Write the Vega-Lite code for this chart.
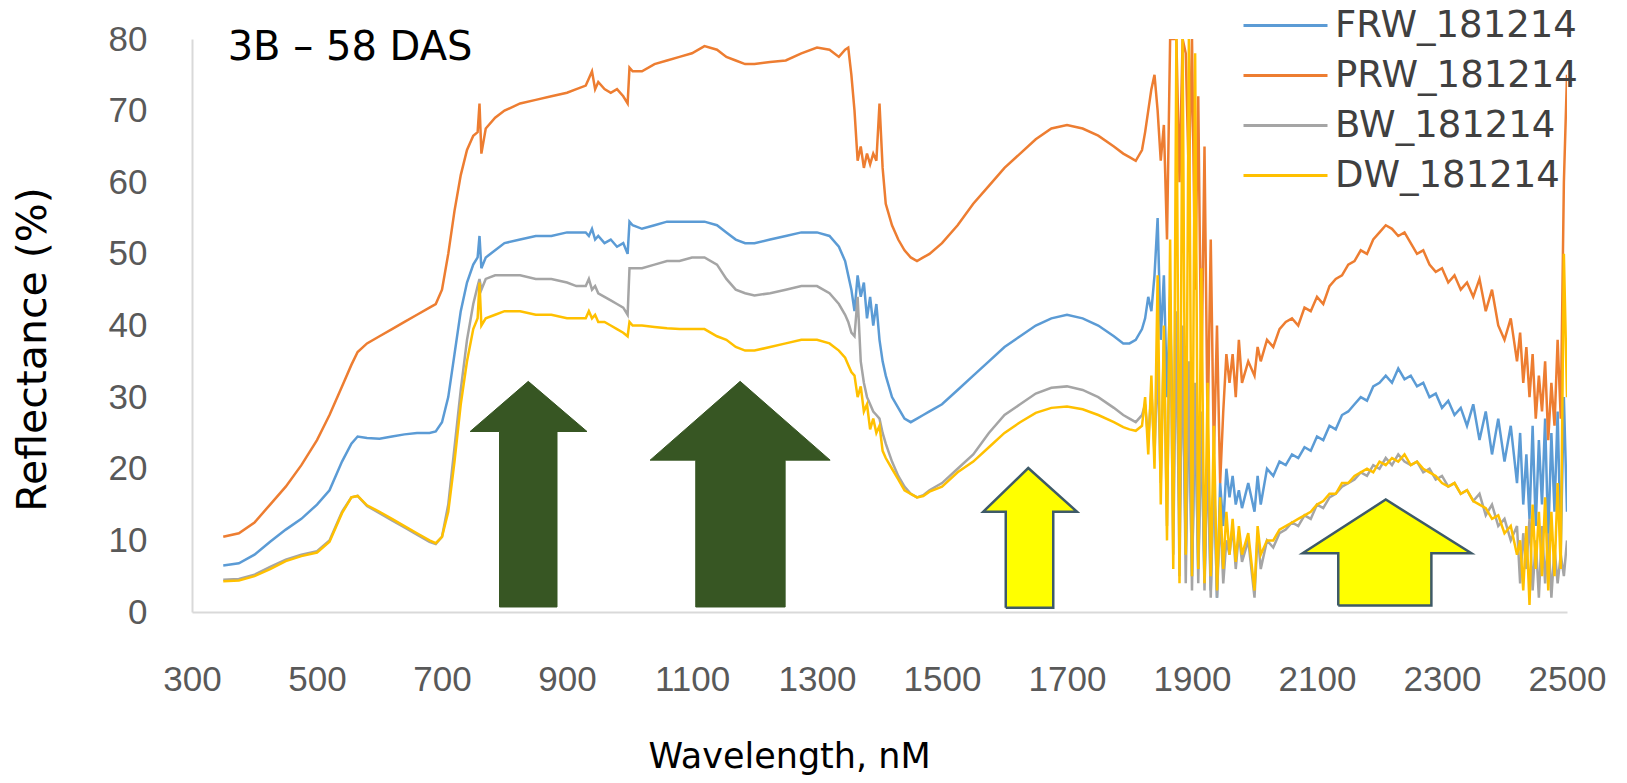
{
 "$schema": "https://vega.github.io/schema/vega-lite/v6.json",
 "width": 1375, "height": 573,
 "autosize": {"type": "none"},
 "padding": {"left": 192, "top": 39, "right": 60, "bottom": 171},
 "background": "white",
 "config": {"view": {"stroke": null}, "font": "DejaVu Sans"},
 "datasets": {
  "spectra": [
{"w":350,"a":6.5,"b":10.5,"c":4.5,"d":4.3},
{"w":375,"a":6.8,"b":11,"c":4.6,"d":4.4},
{"w":400,"a":8,"b":12.5,"c":5.2,"d":5},
{"w":425,"a":9.8,"b":15,"c":6.3,"d":6},
{"w":450,"a":11.5,"b":17.5,"c":7.3,"d":7.1},
{"w":475,"a":13,"b":20.5,"c":8,"d":7.8},
{"w":500,"a":15,"b":24,"c":8.5,"d":8.3},
{"w":520,"a":17,"b":27.5,"c":10,"d":9.8},
{"w":540,"a":21,"b":31.5,"c":14,"d":13.8},
{"w":555,"a":23.5,"b":34.5,"c":16,"d":16},
{"w":565,"a":24.5,"b":36.3,"c":16.2,"d":16.2},
{"w":580,"a":24.3,"b":37.5,"c":14.8,"d":14.9},
{"w":600,"a":24.2,"b":38.5,"c":13.8,"d":14},
{"w":620,"a":24.5,"b":39.5,"c":12.8,"d":13},
{"w":640,"a":24.8,"b":40.5,"c":11.8,"d":12},
{"w":660,"a":25,"b":41.5,"c":10.8,"d":11},
{"w":680,"a":25,"b":42.5,"c":9.8,"d":10},
{"w":690,"a":25.2,"b":43,"c":9.5,"d":9.6},
{"w":700,"a":26.5,"b":45,"c":10.5,"d":10.5},
{"w":710,"a":30,"b":50,"c":15,"d":14},
{"w":720,"a":36,"b":56,"c":23,"d":21},
{"w":730,"a":42,"b":61,"c":31,"d":29},
{"w":740,"a":46,"b":64.5,"c":38,"d":35},
{"w":750,"a":48.5,"b":66.5,"c":43,"d":39.5},
{"w":757,"a":49.5,"b":67,"c":45.5,"d":41},
{"w":760,"a":52.5,"b":71,"c":46.5,"d":46},
{"w":763,"a":48,"b":64,"c":45,"d":40},
{"w":770,"a":49.5,"b":67.5,"c":46.5,"d":41},
{"w":785,"a":50.5,"b":69,"c":47,"d":41.5},
{"w":800,"a":51.5,"b":70,"c":47,"d":42},
{"w":825,"a":52,"b":71,"c":47,"d":42},
{"w":850,"a":52.5,"b":71.5,"c":46.5,"d":41.5},
{"w":875,"a":52.5,"b":72,"c":46.5,"d":41.5},
{"w":900,"a":53,"b":72.5,"c":46,"d":41},
{"w":915,"a":53,"b":73,"c":45.5,"d":41},
{"w":930,"a":53,"b":73.5,"c":45.5,"d":41},
{"w":935,"a":52.5,"b":74.5,"c":46.5,"d":42},
{"w":940,"a":53.5,"b":75.5,"c":45,"d":41},
{"w":945,"a":52,"b":73,"c":45.5,"d":41.5},
{"w":950,"a":52.5,"b":74,"c":44.5,"d":40.5},
{"w":960,"a":51.5,"b":73,"c":44,"d":40.5},
{"w":970,"a":52,"b":72.5,"c":43.5,"d":40},
{"w":980,"a":51,"b":73,"c":43,"d":39.5},
{"w":990,"a":51.5,"b":72,"c":42.5,"d":39},
{"w":997,"a":50,"b":71,"c":41.5,"d":38.5},
{"w":1000,"a":54.5,"b":76,"c":48,"d":40.5},
{"w":1005,"a":54,"b":75.5,"c":48,"d":40},
{"w":1020,"a":53.5,"b":75.5,"c":48,"d":40},
{"w":1040,"a":54,"b":76.5,"c":48.5,"d":39.8},
{"w":1060,"a":54.5,"b":77,"c":49,"d":39.6},
{"w":1080,"a":54.5,"b":77.5,"c":49,"d":39.5},
{"w":1100,"a":54.5,"b":78,"c":49.5,"d":39.5},
{"w":1120,"a":54.5,"b":79,"c":49.5,"d":39.5},
{"w":1140,"a":54,"b":78.5,"c":48.5,"d":38.5},
{"w":1155,"a":53,"b":77.5,"c":46.5,"d":38},
{"w":1170,"a":52,"b":77,"c":45,"d":37},
{"w":1185,"a":51.5,"b":76.5,"c":44.5,"d":36.5},
{"w":1200,"a":51.5,"b":76.5,"c":44.2,"d":36.5},
{"w":1225,"a":52,"b":76.8,"c":44.5,"d":37},
{"w":1250,"a":52.5,"b":77,"c":45,"d":37.5},
{"w":1275,"a":53,"b":78,"c":45.5,"d":38},
{"w":1300,"a":53,"b":78.8,"c":45.5,"d":38},
{"w":1320,"a":52.5,"b":78.5,"c":44.5,"d":37.5},
{"w":1335,"a":51,"b":77.5,"c":43,"d":36.5},
{"w":1345,"a":49,"b":78.5,"c":41.5,"d":35.5},
{"w":1350,"a":47,"b":78.8,"c":40.5,"d":34.5},
{"w":1355,"a":45,"b":75,"c":39,"d":33.5},
{"w":1360,"a":42,"b":70,"c":38.5,"d":33},
{"w":1365,"a":47,"b":63,"c":44,"d":30},
{"w":1370,"a":44,"b":65,"c":35,"d":31.5},
{"w":1375,"a":46,"b":62,"c":32,"d":28},
{"w":1380,"a":41,"b":64,"c":30,"d":29},
{"w":1385,"a":44,"b":62.5,"c":29,"d":25.5},
{"w":1390,"a":40,"b":64,"c":28,"d":27},
{"w":1395,"a":43,"b":63,"c":27.5,"d":25},
{"w":1400,"a":38,"b":71,"c":27,"d":26},
{"w":1405,"a":35,"b":62,"c":25,"d":22.5},
{"w":1410,"a":33,"b":57,"c":23.5,"d":21.5},
{"w":1420,"a":30,"b":54,"c":21,"d":20},
{"w":1430,"a":28.5,"b":52,"c":19,"d":18.5},
{"w":1440,"a":27,"b":50.5,"c":17.5,"d":17},
{"w":1450,"a":26.5,"b":49.5,"c":16.5,"d":16.5},
{"w":1460,"a":27,"b":49,"c":16,"d":16},
{"w":1470,"a":27.5,"b":49.5,"c":16.3,"d":16.2},
{"w":1480,"a":28,"b":50,"c":17,"d":16.8},
{"w":1500,"a":29,"b":51.5,"c":18,"d":17.5},
{"w":1525,"a":31,"b":54,"c":20,"d":19.5},
{"w":1550,"a":33,"b":57,"c":22,"d":21},
{"w":1575,"a":35,"b":59.5,"c":25,"d":23},
{"w":1600,"a":37,"b":62,"c":27.5,"d":25},
{"w":1625,"a":38.5,"b":64,"c":29,"d":26.5},
{"w":1650,"a":40,"b":66,"c":30.5,"d":27.8},
{"w":1675,"a":41,"b":67.5,"c":31.3,"d":28.5},
{"w":1700,"a":41.5,"b":68,"c":31.5,"d":28.7},
{"w":1725,"a":41,"b":67.5,"c":31,"d":28.3},
{"w":1750,"a":40,"b":66.5,"c":30,"d":27.5},
{"w":1775,"a":38.5,"b":65,"c":28.5,"d":26.5},
{"w":1790,"a":37.5,"b":64,"c":27.5,"d":25.8},
{"w":1800,"a":37.5,"b":63.5,"c":27,"d":25.5},
{"w":1810,"a":38,"b":63,"c":26.5,"d":25.3},
{"w":1820,"a":39.5,"b":64.5,"c":27.5,"d":26},
{"w":1825,"a":41,"b":67,"c":29,"d":30},
{"w":1830,"a":44,"b":70,"c":24,"d":22},
{"w":1835,"a":42,"b":73,"c":31,"d":33},
{"w":1840,"a":47,"b":75,"c":22,"d":20},
{"w":1845,"a":55,"b":70,"c":35,"d":47},
{"w":1850,"a":38,"b":63,"c":18,"d":15},
{"w":1855,"a":47,"b":68,"c":38,"d":40},
{"w":1860,"a":30,"b":52,"c":12,"d":10},
{"w":1865,"a":44,"b":80,"c":45,"d":52},
{"w":1870,"a":20,"b":80,"c":8,"d":6},
{"w":1875,"a":40,"b":80,"c":42,"d":80},
{"w":1880,"a":12,"b":60,"c":5,"d":4},
{"w":1885,"a":36,"b":80,"c":40,"d":80},
{"w":1890,"a":8,"b":78,"c":4,"d":8},
{"w":1895,"a":30,"b":60,"c":35,"d":80},
{"w":1900,"a":5,"b":80,"c":3,"d":5},
{"w":1905,"a":28,"b":45,"c":32,"d":78},
{"w":1910,"a":6,"b":72,"c":4,"d":6},
{"w":1915,"a":26,"b":32,"c":28,"d":48},
{"w":1920,"a":4,"b":65,"c":3,"d":4},
{"w":1925,"a":24,"b":25,"c":22,"d":32},
{"w":1930,"a":3,"b":52,"c":2,"d":5},
{"w":1935,"a":20,"b":22,"c":20,"d":26},
{"w":1940,"a":2,"b":40,"c":2,"d":3},
{"w":1945,"a":18,"b":18,"c":14,"d":16},
{"w":1950,"a":12,"b":28,"c":4,"d":6},
{"w":1955,"a":20,"b":36,"c":10,"d":14},
{"w":1960,"a":16,"b":32,"c":8,"d":8},
{"w":1965,"a":19,"b":36,"c":12,"d":13},
{"w":1970,"a":15,"b":30,"c":6,"d":7},
{"w":1975,"a":17,"b":38,"c":11,"d":12},
{"w":1980,"a":14.5,"b":32,"c":7,"d":8},
{"w":1990,"a":18,"b":35,"c":10,"d":11},
{"w":2000,"a":14,"b":33,"c":2,"d":3},
{"w":2005,"a":19,"b":37,"c":11,"d":12},
{"w":2010,"a":15,"b":35,"c":6,"d":8},
{"w":2020,"a":20,"b":38,"c":10,"d":10},
{"w":2030,"a":19,"b":37,"c":9,"d":10},
{"w":2040,"a":21,"b":39.5,"c":11,"d":11.5},
{"w":2050,"a":20.5,"b":40.5,"c":11.5,"d":12},
{"w":2060,"a":22,"b":41,"c":12.5,"d":12.5},
{"w":2070,"a":21.5,"b":40,"c":12,"d":13},
{"w":2080,"a":23,"b":42.5,"c":13.5,"d":13.5},
{"w":2090,"a":22.5,"b":42,"c":13,"d":14},
{"w":2100,"a":24.5,"b":44,"c":15,"d":15},
{"w":2110,"a":24,"b":43,"c":14.5,"d":15.5},
{"w":2120,"a":26,"b":45.5,"c":16,"d":16.5},
{"w":2130,"a":25.5,"b":46.5,"c":16.5,"d":16.5},
{"w":2140,"a":27.5,"b":47,"c":17.5,"d":18},
{"w":2150,"a":28,"b":48.5,"c":18,"d":18},
{"w":2160,"a":29,"b":49,"c":18.5,"d":19},
{"w":2170,"a":30,"b":50.5,"c":19.5,"d":19.5},
{"w":2180,"a":29.5,"b":50,"c":19,"d":20},
{"w":2190,"a":31.5,"b":52,"c":20.5,"d":19.5},
{"w":2200,"a":32,"b":53,"c":20,"d":21},
{"w":2210,"a":33,"b":54,"c":21.5,"d":20.5},
{"w":2220,"a":32,"b":53.5,"c":20.5,"d":21.5},
{"w":2230,"a":34,"b":52.5,"c":22,"d":21},
{"w":2240,"a":32.5,"b":53,"c":21,"d":22},
{"w":2250,"a":33,"b":51.5,"c":20.5,"d":20.5},
{"w":2260,"a":31.5,"b":50,"c":21,"d":21},
{"w":2270,"a":32,"b":50.5,"c":19.5,"d":20},
{"w":2280,"a":30,"b":48.5,"c":20,"d":19.5},
{"w":2290,"a":30.5,"b":47.5,"c":18.5,"d":19},
{"w":2300,"a":28.5,"b":48,"c":19,"d":18},
{"w":2310,"a":29.5,"b":46,"c":17.5,"d":17.5},
{"w":2320,"a":27.5,"b":47,"c":18,"d":18},
{"w":2330,"a":28.5,"b":45,"c":16.5,"d":16.5},
{"w":2340,"a":26,"b":46,"c":17,"d":17},
{"w":2350,"a":29,"b":44,"c":15.5,"d":15.5},
{"w":2360,"a":24,"b":46.5,"c":16.5,"d":15},
{"w":2370,"a":28,"b":42,"c":13.5,"d":14.5},
{"w":2380,"a":22,"b":45,"c":15,"d":13},
{"w":2390,"a":27,"b":40,"c":12,"d":13.5},
{"w":2400,"a":21,"b":38,"c":13,"d":11},
{"w":2410,"a":26,"b":41,"c":10,"d":12},
{"w":2420,"a":18,"b":35,"c":12,"d":8},
{"w":2425,"a":25,"b":39,"c":4,"d":10},
{"w":2430,"a":15,"b":32,"c":11,"d":3},
{"w":2435,"a":22,"b":37,"c":6,"d":12},
{"w":2440,"a":13,"b":30,"c":13,"d":1},
{"w":2445,"a":26,"b":36,"c":3,"d":15},
{"w":2450,"a":12,"b":27,"c":10,"d":6},
{"w":2455,"a":24,"b":33,"c":2,"d":14},
{"w":2460,"a":15,"b":28,"c":12,"d":5},
{"w":2465,"a":27,"b":35,"c":4,"d":16},
{"w":2470,"a":10,"b":24,"c":11,"d":3},
{"w":2475,"a":25,"b":32,"c":2,"d":14},
{"w":2480,"a":14,"b":26,"c":9,"d":5},
{"w":2485,"a":28,"b":38,"c":4,"d":18},
{"w":2490,"a":9,"b":27,"c":8,"d":6},
{"w":2495,"a":30,"b":60,"c":5,"d":50},
{"w":2500,"a":14,"b":75,"c":10,"d":30}
  ],
  "arrows": [
{"a":"g1","i":0,"x":792,"y":0.7},{"a":"g1","i":1,"x":792,"y":25.2},{"a":"g1","i":2,"x":745,"y":25.2},{"a":"g1","i":3,"x":838,"y":32.2},{"a":"g1","i":4,"x":932,"y":25.2},{"a":"g1","i":5,"x":884,"y":25.2},{"a":"g1","i":6,"x":884,"y":0.7},{"a":"g1","i":7,"x":792,"y":0.7},
{"a":"g2","i":0,"x":1106,"y":0.7},{"a":"g2","i":1,"x":1106,"y":21.2},{"a":"g2","i":2,"x":1033,"y":21.2},{"a":"g2","i":3,"x":1177,"y":32.2},{"a":"g2","i":4,"x":1321,"y":21.2},{"a":"g2","i":5,"x":1249,"y":21.2},{"a":"g2","i":6,"x":1249,"y":0.7},{"a":"g2","i":7,"x":1106,"y":0.7}
  ],
  "yarrows": [
{"a":"y1","i":0,"x":1602,"y":0.6},{"a":"y1","i":1,"x":1602,"y":14},{"a":"y1","i":2,"x":1566,"y":14},{"a":"y1","i":3,"x":1638,"y":20.1},{"a":"y1","i":4,"x":1716,"y":14},{"a":"y1","i":5,"x":1678,"y":14},{"a":"y1","i":6,"x":1678,"y":0.6},{"a":"y1","i":7,"x":1602,"y":0.6},
{"a":"y2","i":0,"x":2134,"y":0.9},{"a":"y2","i":1,"x":2134,"y":8.2},{"a":"y2","i":2,"x":2077,"y":8.2},{"a":"y2","i":3,"x":2210,"y":15.7},{"a":"y2","i":4,"x":2347,"y":8.2},{"a":"y2","i":5,"x":2283,"y":8.2},{"a":"y2","i":6,"x":2283,"y":0.9},{"a":"y2","i":7,"x":2134,"y":0.9}
  ],
  "label": [{"x":357,"y":77.1,"t":"3B – 58 DAS"}]
 },
 "layer": [
  {
   "data": {"name": "spectra"},
   "transform": [{"fold": ["a","b","c","d"], "as": ["series","value"]}],
   "mark": {"type": "line", "strokeWidth": 2.5, "clip": true},
   "encoding": {
    "x": {"field": "w", "type": "quantitative",
     "scale": {"domain": [300,2500], "nice": false, "zero": false},
     "axis": {"values": [300,500,700,900,1100,1300,1500,1700,1900,2100,2300,2500], "format": "d",
      "ticks": false, "grid": false, "domainColor": "#d9d9d9", "domainWidth": 2,
      "labelFont": "Liberation Sans", "labelFontSize": 35, "labelColor": "#595959", "labelPadding": 50,
      "labelFlush": false, "labelOverlap": false,
      "title": "Wavelength, nM", "titleFont": "DejaVu Sans", "titleFontSize": 35, "titleFontWeight": "normal", "titleColor": "#000000",
      "titleX": 597, "titleY": 144, "titleBaseline": "middle", "titleAlign": "center"}},
    "y": {"field": "value", "type": "quantitative",
     "scale": {"domain": [0,80], "nice": false},
     "axis": {"values": [0,10,20,30,40,50,60,70,80], "ticks": false, "grid": false,
      "domainColor": "#d9d9d9", "domainWidth": 2,
      "labelFont": "Liberation Sans", "labelFontSize": 35, "labelColor": "#595959", "labelPadding": 45,
      "title": "Reflectance (%)", "titleFont": "DejaVu Sans", "titleFontSize": 41, "titleFontWeight": "normal", "titleColor": "#000000",
      "titleX": -159, "titleY": 310, "titleAngle": 270, "titleBaseline": "middle", "titleAlign": "center"}},
    "color": {"field": "series", "type": "nominal",
     "scale": {"domain": ["a","b","c","d"], "range": ["#5B9BD5","#ED7D31","#A5A5A5","#FFC000"]},
     "legend": {"orient": "none", "legendX": 1071, "legendY": -36, "title": null,
      "symbolType": "M-2,0L2,0", "symbolSize": 1764, "symbolStrokeWidth": 3,
      "labelFont": "DejaVu Sans", "labelFontSize": 37, "labelColor": "#404040", "labelOffset": 27, "labelLimit": 0,
      "rowPadding": 9, "padding": 0,
      "labelExpr": "datum.label=='a'?'FRW_181214':datum.label=='b'?'PRW_181214':datum.label=='c'?'BW_181214':'DW_181214'"}}
   }
  },
  {
   "data": {"name": "arrows"},
   "mark": {"type": "line", "fill": "#375623", "stroke": "#375623", "strokeWidth": 1},
   "encoding": {
    "x": {"field": "x", "type": "quantitative"},
    "y": {"field": "y", "type": "quantitative"},
    "detail": {"field": "a"},
    "order": {"field": "i", "type": "quantitative"}
   }
  },
  {
   "data": {"name": "yarrows"},
   "mark": {"type": "line", "fill": "#FFFF00", "stroke": "#3E5A68", "strokeWidth": 2.5},
   "encoding": {
    "x": {"field": "x", "type": "quantitative"},
    "y": {"field": "y", "type": "quantitative"},
    "detail": {"field": "a"},
    "order": {"field": "i", "type": "quantitative"}
   }
  },
  {
   "data": {"name": "label"},
   "mark": {"type": "text", "align": "left", "baseline": "alphabetic", "fontSize": 40, "font": "DejaVu Sans", "color": "#000000"},
   "encoding": {
    "x": {"field": "x", "type": "quantitative"},
    "y": {"field": "y", "type": "quantitative"},
    "text": {"field": "t"}
   }
  }
 ]
}
